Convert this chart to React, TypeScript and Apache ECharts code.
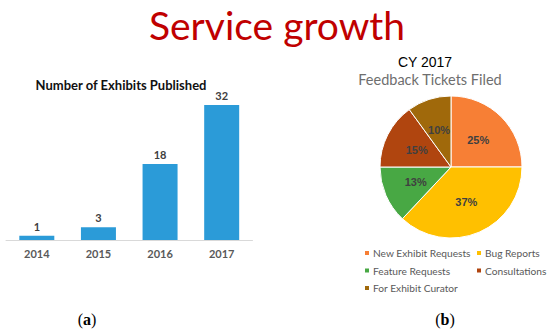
import React, { useEffect, useRef } from "react";
import * as echarts from "echarts";

const years = ["2014", "2015", "2016", "2017"];
const exhibits = [1, 3, 18, 32];

const ticketCategories = [
  "New Exhibit Requests",
  "Bug Reports",
  "Feature Requests",
  "Consultations",
  "For Exhibit Curator",
];
const ticketShares = [25, 37, 13, 15, 10];
const ticketColors = ["#F77F35", "#FFC000", "#48A844", "#B0450F", "#A0690B"];

export default function App() {
  const ref = useRef<HTMLDivElement>(null);
  useEffect(() => {
    document.body.style.margin = "0";
    const chart = echarts.init(ref.current!, null, { renderer: "svg" });
    const calibri = "Lato, 'Open Sans', sans-serif";
    const legendText = { color: "#595959", fontSize: 10.2, fontFamily: calibri, padding: [0, 0, 0, -2] };
    chart.setOption({
      animation: false,
      backgroundColor: "#ffffff",
      grid: { left: 6, width: 246.5, top: 105, bottom: 92, containLabel: false },
      xAxis: {
        type: "category",
        data: years,
        axisLine: { lineStyle: { color: "#D9D9D9", width: 1 } },
        axisTick: { show: false },
        axisLabel: {
          color: "#595959",
          fontWeight: "bold",
          fontSize: 11,
          fontFamily: calibri,
          margin: 8,
        },
      },
      yAxis: { type: "value", min: 0, max: 32, show: false, splitLine: { show: false } },
      legend: [
        {
          orient: "vertical",
          left: 363,
          top: 248,
          padding: 0,
          itemWidth: 6,
          itemHeight: 6,
          itemGap: 7.5,
          icon: "rect",
          data: [ticketCategories[0], ticketCategories[2], ticketCategories[4]],
          textStyle: legendText,
        },
        {
          orient: "vertical",
          left: 475,
          top: 248,
          padding: 0,
          itemWidth: 6,
          itemHeight: 6,
          itemGap: 7.5,
          icon: "rect",
          data: [ticketCategories[1], ticketCategories[3]],
          textStyle: legendText,
        },
      ],
      series: [
        {
          type: "bar",
          data: exhibits,
          barWidth: 35,
          itemStyle: { color: "#2B9BD8" },
          label: {
            show: true,
            position: "top",
            distance: 4,
            color: "#404040",
            fontWeight: "bold",
            fontSize: 11,
            fontFamily: calibri,
          },
        },
        {
          type: "pie",
          center: [451, 167],
          radius: 71,
          startAngle: 90,
          clockwise: true,
          data: ticketCategories.map((name, i) => ({
            name,
            value: ticketShares[i],
            itemStyle: { color: ticketColors[i] },
          })),
          itemStyle: { borderColor: "#ffffff", borderWidth: 1 },
          label: {
            show: true,
            position: "inner",
            formatter: "{c}%",
            color: "#404040",
            fontWeight: "bold",
            fontSize: 11,
            fontFamily: "'Liberation Sans', Arial, sans-serif",
          },
          labelLine: { show: false },
          emphasis: { disabled: true },
        },
      ],
      graphic: [
        {
          type: "text",
          x: 277,
          y: 25,
          style: {
            text: "Service growth",
            fill: "#C00000",
            font: "39px Lato, sans-serif",
            textAlign: "center",
            textVerticalAlign: "middle",
          },
        },
        {
          type: "text",
          x: 121,
          y: 85,
          style: {
            text: "Number of Exhibits Published",
            fill: "#111111",
            font: "bold 13px Lato, sans-serif",
            textAlign: "center",
            textVerticalAlign: "middle",
          },
        },
        {
          type: "text",
          x: 425,
          y: 62,
          style: {
            text: "CY 2017",
            fill: "#000000",
            font: "14px 'Liberation Sans', Arial, sans-serif",
            textAlign: "center",
            textVerticalAlign: "middle",
          },
        },
        {
          type: "text",
          x: 430,
          y: 79,
          style: {
            text: "Feedback Tickets Filed",
            fill: "#6E6E6E",
            font: "14.5px Lato, sans-serif",
            textAlign: "center",
            textVerticalAlign: "middle",
          },
        },
        {
          type: "text",
          x: 87,
          y: 319,
          style: {
            text: "{p|(}{b|a}{p|)}",
            rich: {
              p: { fill: "#000", font: "16px 'Liberation Serif', serif" },
              b: { fill: "#000", font: "bold 16px 'Liberation Serif', serif" },
            },
            textAlign: "center",
            textVerticalAlign: "middle",
          },
        },
        {
          type: "text",
          x: 445,
          y: 319,
          style: {
            text: "{p|(}{b|b}{p|)}",
            rich: {
              p: { fill: "#000", font: "16px 'Liberation Serif', serif" },
              b: { fill: "#000", font: "bold 16px 'Liberation Serif', serif" },
            },
            textAlign: "center",
            textVerticalAlign: "middle",
          },
        },
      ],
    });
    return () => chart.dispose();
  }, []);
  return <div ref={ref} style={{ width: 550, height: 332 }} />;
}
